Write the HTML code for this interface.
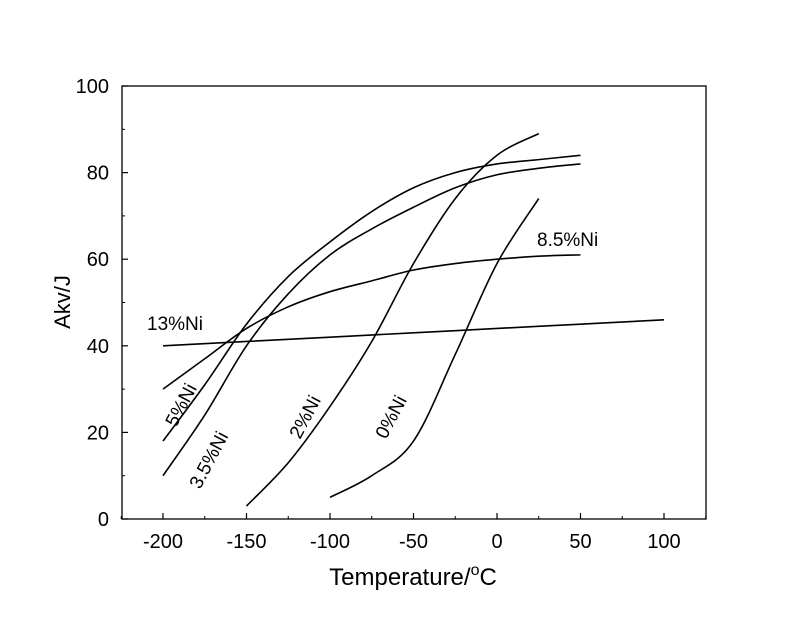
<!DOCTYPE html>
<html><head><meta charset="utf-8"><style>
body{margin:0;background:#fff;}
svg{display:block;font-family:"Liberation Sans",Arial,sans-serif;}
</style></head><body>
<svg id="chart" width="788" height="635"></svg>
<script>
const xTicks=[-200,-150,-100,-50,0,50,100];
const yTicks=[0,20,40,60,80,100];
const series13X=[-200,-150,-100,-50,0,50,100];
const series13Y=[40,41,42,43,44,45,46];
const series85X=[-200,-175,-150,-125,-100,-75,-50,-25,0,25,50];
const series85Y=[30,37,44,49,52.5,55,57.5,59,60,60.7,61];
const series5X=[-200,-175,-150,-125,-100,-75,-50,-25,0,25,50];
const series5Y=[18,31,45,56,64,71,76.5,80,82,83,84];
const series35X=[-200,-175,-150,-125,-100,-75,-50,-25,0,25,50];
const series35Y=[10,24,40,52,61,67,72,76.5,79.5,81,82];
const series2X=[-150,-125,-100,-75,-50,-25,0,25];
const series2Y=[3,13,26,41,59,74,84,89];
const series0X=[-100,-75,-50,-25,0,25];
const series0Y=[5,10,18,38,59,74];
const seriesNames=['13pct-ni','8-5pct-ni','5pct-ni','3-5pct-ni','2pct-ni','0pct-ni'];

const NS='http://www.w3.org/2000/svg';
const svg=document.getElementById('chart');
const L=122,R=706,T=86,B=519;
const sx=v=>163+(v+200)*(664-163)/300;
const sy=v=>B-(v)*(B-T)/100;
function mk(tag,attrs,parent){const e=document.createElementNS(NS,tag);for(const k in attrs)e.setAttribute(k,attrs[k]);(parent||svg).appendChild(e);return e;}

const frame=mk('rect',{x:L,y:T,width:R-L,height:B-T,fill:'none',stroke:'#000','stroke-width':1.3});



xTicks.forEach(v=>{
  const t=mk('line',{x1:sx(v),x2:sx(v),y1:B,y2:B-6,stroke:'#000','stroke-width':1.2});
  
  
  const tl=mk('text',{x:sx(v),y:B+29,'font-size':20,'text-anchor':'middle'});
  tl.textContent=v;
  
  
});
for(let v=-225;v<=125;v+=25){if(v%50!==0){const m=mk('line',{x1:sx(v),x2:sx(v),y1:B,y2:B-3,stroke:'#000'});}}
yTicks.forEach(v=>{
  const t=mk('line',{x1:L,x2:L+6,y1:sy(v),y2:sy(v),stroke:'#000','stroke-width':1.2});
  
  
  const tl=mk('text',{x:L-13,y:sy(v)+7,'font-size':20,'text-anchor':'end'});
  tl.textContent=v;
  
  
});
for(let v=10;v<100;v+=20){const m=mk('line',{x1:L,x2:L+3,y1:sy(v),y2:sy(v),stroke:'#000'});}

function smooth(xs,ys){
  const p=xs.map((x,i)=>[sx(x),sy(ys[i])]);
  let d='M'+p[0][0]+','+p[0][1];
  for(let i=0;i<p.length-1;i++){
    const p0=p[i-1]||p[i],p1=p[i],p2=p[i+1],p3=p[i+2]||p2;
    const c1=[p1[0]+(p2[0]-p0[0])/6,p1[1]+(p2[1]-p0[1])/6];
    const c2=[p2[0]-(p3[0]-p1[0])/6,p2[1]-(p3[1]-p1[1])/6];
    d+=` C${c1[0]},${c1[1]} ${c2[0]},${c2[1]} ${p2[0]},${p2[1]}`;
  }
  return d;
}
[[series13X,series13Y],[series85X,series85Y],[series5X,series5Y],[series35X,series35Y],[series2X,series2Y],[series0X,series0Y]].forEach((s,i)=>{
  const p=mk('path',{d:smooth(s[0],s[1]),fill:'none',stroke:'#000','stroke-width':1.6});
  
  
});

function label(txt,x,y,rot,name){
  const t=mk('text',{x:x,y:y,'font-size':19,transform:rot?`rotate(${rot} ${x} ${y})`:''});
  t.textContent=txt;
  
  
}
label('13%Ni',147,330,0,'label-13pct-ni');
label('8.5%Ni',537,246,0,'label-8-5pct-ni');
label('5%Ni',176,428,-62,'label-5pct-ni');
label('3.5%Ni',200,490,-62,'label-3-5pct-ni');
label('2%Ni',300,440,-62,'label-2pct-ni');
label('0%Ni',386,440,-62,'label-0pct-ni');

const xt=mk('text',{x:413,y:585,'font-size':24,'text-anchor':'middle'});
xt.innerHTML='Temperature/<tspan dy="-10" font-size="16">o</tspan><tspan dy="10">C</tspan>';


const yt=mk('text',{x:70,y:302,'font-size':22,'text-anchor':'middle',transform:'rotate(-90 70 302)'});
yt.textContent='Akv/J';


</script>
</body></html>
